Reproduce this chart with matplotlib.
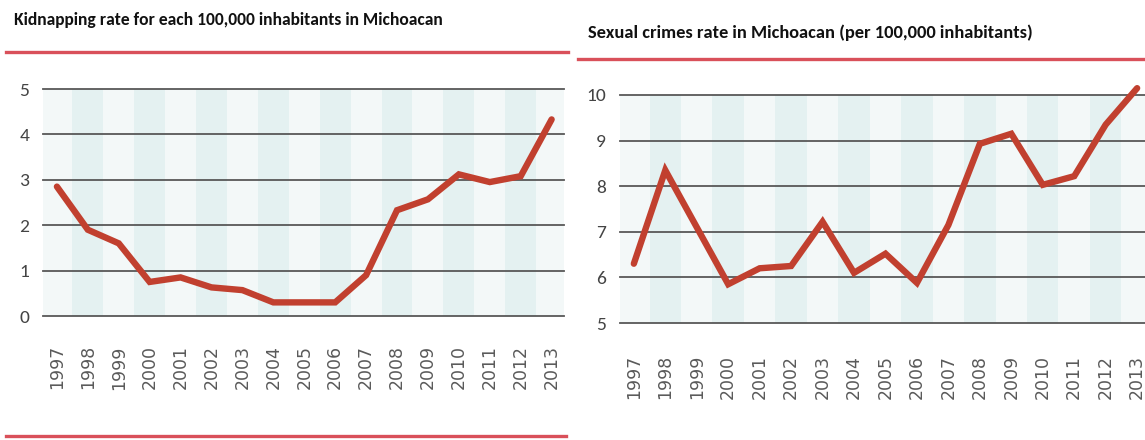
import matplotlib
matplotlib.use("Agg")
import matplotlib.pyplot as plt
from matplotlib.lines import Line2D

years = [str(y) for y in range(1997, 2014)]

# kidnapping rate per 100,000 inhabitants
kidnapping = [2.85, 1.9, 1.6, 0.75, 0.85, 0.63, 0.57, 0.3, 0.3, 0.3,
              0.9, 2.33, 2.57, 3.12, 2.95, 3.08, 4.33]

# sexual crimes rate per 100,000 inhabitants
sexual = [6.3, 8.35, 7.1, 5.85, 6.2, 6.25, 7.22, 6.1, 6.52, 5.88,
          7.15, 8.93, 9.15, 8.03, 8.22, 9.35, 10.15]

W, H = 1145, 440
fig = plt.figure(figsize=(W / 100, H / 100), dpi=100)
fig.patch.set_facecolor("white")

narrow = ["Carlito", "Liberation Sans Narrow", "Open Sans"]

line_color = "#c1402f"
red_rule = "#d9505a"
band_dark = "#e4f1f1"
band_light = "#f3f8f8"
grid_color = "#585858"


def px_axes(x0, x1, y_top, y_bot):
    return fig.add_axes([x0 / W, (H - y_bot) / H, (x1 - x0) / W, (y_bot - y_top) / H])


def draw_panel(ax, values, ymin, ymax, xlim, xpad):
    n = len(values)
    for i in range(n):
        c = band_dark if i % 2 == 1 else band_light
        ax.axvspan(i - 0.5, i + 0.5, ymin=0, ymax=1, color=c, lw=0, zorder=0)
    for v in range(ymin, ymax + 1):
        ax.axhline(v, color=grid_color, lw=1.3, zorder=1, clip_on=False)
    ax.plot(range(n), values, color=line_color, lw=4.6, solid_capstyle="round",
            solid_joinstyle="miter", zorder=3, clip_on=False)
    ax.set_xlim(*xlim)
    ax.set_ylim(ymin, ymax)
    ax.set_yticks(range(ymin, ymax + 1))
    ax.set_yticklabels([str(v) for v in range(ymin, ymax + 1)],
                       fontsize=14, color="#444444", family=narrow)
    ax.set_xticks(range(n))
    ax.set_xticklabels(years, rotation=90, fontsize=12.5, color="#5a5a5a",
                       family="DejaVu Sans")
    ax.tick_params(axis="both", length=0)
    ax.tick_params(axis="y", pad=10)
    ax.tick_params(axis="x", pad=xpad)
    for s in ax.spines.values():
        s.set_visible(False)
    ax.set_facecolor("white")


ax1 = px_axes(43, 564, 89, 316)
draw_panel(ax1, kidnapping, 0, 5, (-0.45, 16.4), 21)

ax2 = px_axes(620, 1145, 95, 323)
draw_panel(ax2, sexual, 5, 10, (-0.44, 16.25), 23)

# titles
fig.text(14 / W, 1 - 20 / H, "Kidnapping rate for each 100,000 inhabitants in Michoacan",
         fontsize=12.6, fontweight="bold", family=narrow, color="#111111",
         va="center", ha="left")
fig.text(588 / W, 1 - 33 / H, "Sexual crimes rate in Michoacan (per 100,000 inhabitants)",
         fontsize=13.2, fontweight="bold", family=narrow, color="#111111",
         va="center", ha="left")

# red rules under the titles and at the bottom of the left panel
rules = [((6, 568), 52), ((578, 1145), 59), ((6, 566), 436)]
for (xa, xb), y in rules:
    fig.add_artist(Line2D([xa / W, xb / W], [1 - y / H, 1 - y / H],
                          transform=fig.transFigure, color=red_rule, lw=2.4))

fig.savefig("out.png", dpi=100, facecolor="white")
